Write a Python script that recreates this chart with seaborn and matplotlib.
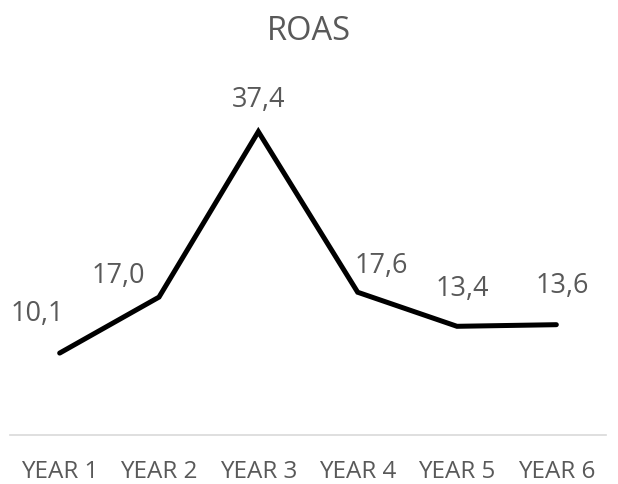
import matplotlib
matplotlib.use("Agg")
import matplotlib.pyplot as plt
import seaborn as sns
import pandas as pd

years = ["YEAR 1", "YEAR 2", "YEAR 3", "YEAR 4", "YEAR 5", "YEAR 6"]
roas = [10.1, 17.0, 37.4, 17.6, 13.4, 13.6]
# label offsets in points (dx, dy) relative to each point
label_offsets = [(-16, 28), (-29, 15), (0, 23), (17, 19), (4, 27), (4, 28)]

df = pd.DataFrame({"year": years, "roas": roas})

sns.set_theme(style="white")
plt.rcParams["font.family"] = ["Open Sans", "DejaVu Sans"]
grey = "#595959"

fig = plt.figure(figsize=(6.18, 4.84), dpi=100)
ax = fig.add_axes([10 / 618, 49 / 484, 596 / 618, 365 / 484])

sns.lineplot(data=df, x="year", y="roas", ax=ax, color="black", linewidth=3.6,
             sort=False, solid_capstyle="round", solid_joinstyle="miter")

for i, (v, off) in enumerate(zip(roas, label_offsets)):
    ax.annotate(f"{v:.1f}".replace(".", ","), (i, v), xytext=off,
                textcoords="offset points", ha="center", va="center",
                fontsize=19.5, color=grey)

ax.set_xlim(-0.5, 5.5)
ax.set_ylim(0, 45)
ax.set_xlabel("")
ax.set_ylabel("")
ax.set_yticks([])
for s in ["top", "right", "left"]:
    ax.spines[s].set_visible(False)
ax.spines["bottom"].set_color("#d9d9d9")
ax.spines["bottom"].set_linewidth(1.2)
ax.tick_params(axis="x", length=0, pad=18, labelsize=17.5, labelcolor=grey)

fig.suptitle("ROAS", y=1 - 32 / 484, va="center", fontsize=23.5, color=grey)

fig.savefig("out.png", dpi=100)
